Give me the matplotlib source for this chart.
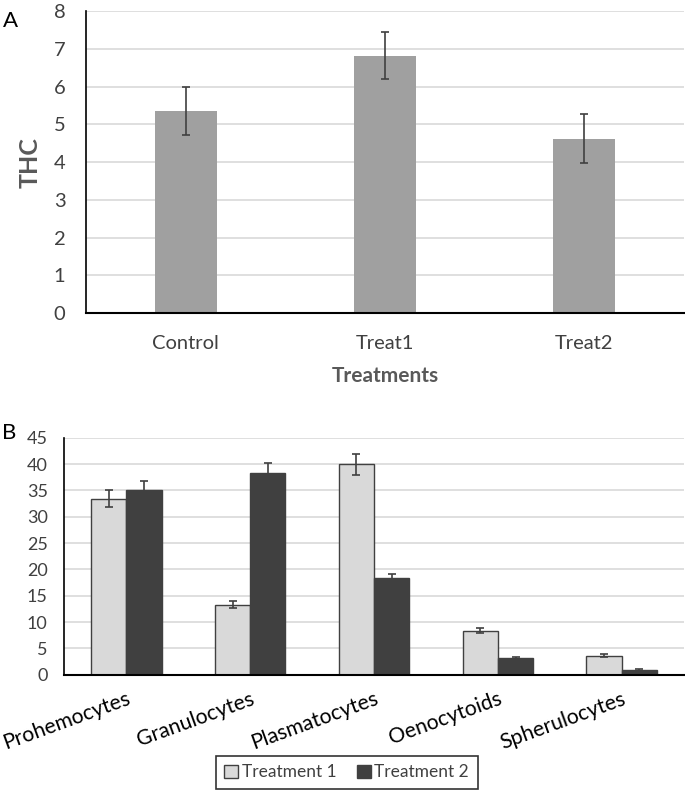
import numpy as np
import matplotlib
matplotlib.use("Agg")
import matplotlib.pyplot as plt

plt.rcParams['font.family'] = ['Lato', 'DejaVu Sans']

# panel A
groups = ['Control', 'Treat1', 'Treat2']
thc = [5.35, 6.82, 4.62]
thc_err = [0.63, 0.63, 0.65]

# panel B
cells = ['Prohemocytes', 'Granulocytes', 'Plasmatocytes', 'Oenocytoids', 'Spherulocytes']
treat1 = [33.4, 13.3, 40.0, 8.4, 3.6]
treat1_err = [1.6, 0.7, 2.0, 0.4, 0.3]
treat2 = [35.0, 38.3, 18.4, 3.2, 0.9]
treat2_err = [1.8, 1.9, 0.8, 0.2, 0.15]

fig = plt.figure(figsize=(6.85, 7.93), dpi=100)

grid_c = '#d9d9d9'
txt_c = '#404040'

# ---- A ----
axA = fig.add_axes([0.126, 0.605, 0.872, 0.381])
x = np.arange(len(groups))
axA.bar(x, thc, width=0.31, color='#a0a0a0', zorder=2)
axA.errorbar(x, thc, yerr=thc_err, fmt='none', ecolor='#404040', elinewidth=1.2,
             capsize=3, capthick=1.2, zorder=3)
axA.set_xlim(-0.5, 2.5)
axA.set_ylim(0, 8)
axA.set_yticks(range(0, 9))
axA.set_xticks(x)
axA.set_xticklabels(groups)
axA.yaxis.grid(True, color=grid_c, linewidth=1.2, zorder=0)
axA.set_axisbelow(True)
for s in ['top', 'right']:
    axA.spines[s].set_visible(False)
axA.spines['left'].set_color('#000000')
axA.spines['left'].set_linewidth(1.2)
axA.spines['bottom'].set_color('#000000')
axA.spines['bottom'].set_linewidth(1.5)
axA.tick_params(axis='y', length=0, labelsize=14.5, labelcolor=txt_c, pad=15)
axA.tick_params(axis='x', length=0, labelsize=14.5, labelcolor=txt_c, pad=16)
axA.set_ylabel('THC', fontsize=18, fontweight='bold', color='#595959', labelpad=9)
axA.set_xlabel('Treatments', fontsize=15, fontweight='bold', color='#595959', labelpad=10)
fig.text(0.005, 0.966, 'A', fontsize=16, color='#000000')

# ---- B ----
axB = fig.add_axes([0.094, 0.149, 0.904, 0.299])
xb = np.arange(len(cells))
w = 0.285
axB.bar(xb - w / 2, treat1, width=w, color='#d9d9d9', edgecolor='#404040',
        linewidth=1.0, label='Treatment 1', zorder=2)
axB.bar(xb + w / 2, treat2, width=w, color='#404040', edgecolor='#404040',
        linewidth=1.0, label='Treatment 2', zorder=2)
axB.errorbar(xb - w / 2, treat1, yerr=treat1_err, fmt='none', ecolor='#404040',
             elinewidth=1.2, capsize=3, capthick=1.2, zorder=3)
axB.errorbar(xb + w / 2, treat2, yerr=treat2_err, fmt='none', ecolor='#404040',
             elinewidth=1.2, capsize=3, capthick=1.2, zorder=3)
axB.set_xlim(-0.5, 4.5)
axB.set_ylim(0, 45)
axB.set_yticks(range(0, 46, 5))
axB.set_xticks(xb)
axB.set_xticklabels(cells, rotation=20, ha='right', rotation_mode='anchor')
axB.yaxis.grid(True, color=grid_c, linewidth=1.2, zorder=0)
axB.set_axisbelow(True)
for s in ['top', 'right']:
    axB.spines[s].set_visible(False)
axB.spines['left'].set_color('#000000')
axB.spines['left'].set_linewidth(1.2)
axB.spines['bottom'].set_color('#000000')
axB.spines['bottom'].set_linewidth(1.5)
axB.tick_params(axis='y', length=0, labelsize=13, labelcolor=txt_c, pad=12)
axB.tick_params(axis='x', length=0, labelsize=15.2, labelcolor='#000000', pad=10)
fig.text(0.003, 0.447, 'B', fontsize=16, color='#000000')

leg = axB.legend(loc='center', bbox_to_anchor=(0.506, 0.026), bbox_transform=fig.transFigure,
                 ncol=2, frameon=True, fancybox=False, fontsize=12.5, handlelength=0.8,
                 handleheight=0.8, handletextpad=0.2, columnspacing=1.2,
                 borderpad=0.5, borderaxespad=0)
leg.get_frame().set_edgecolor('#000000')
leg.get_frame().set_linewidth(1.2)
for t in leg.get_texts():
    t.set_color(txt_c)

fig.savefig('out.png', dpi=100)
